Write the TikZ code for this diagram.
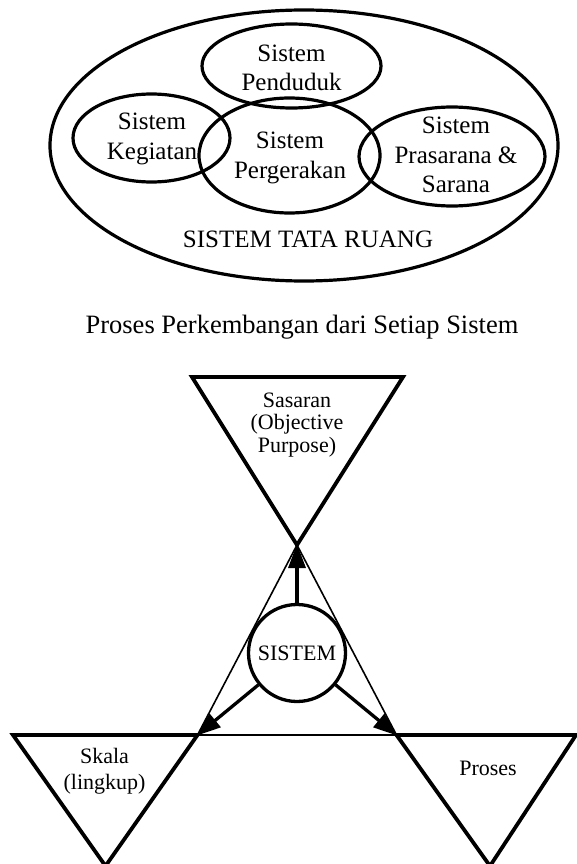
\documentclass[tikz,border=0pt]{standalone}
\usepackage{fontspec}
\setmainfont{Liberation Serif}
\usetikzlibrary{arrows.meta}
\tikzset{
  ell/.style={line width=3.2pt},
  bigtxt/.style={align=center, inner sep=0pt, font=\fontsize{25}{29.5}\selectfont},
  smalltxt/.style={align=center, inner sep=0pt, font=\fontsize{22}{22.5}\selectfont},
  tri/.style={line width=3.8pt, line join=miter},
  thinline/.style={line width=1.6pt},
  arr/.style={line width=3.3pt, -{Triangle[length=24pt,width=17pt]}, shorten >=-1pt},
}
\begin{document}
\begin{tikzpicture}[x=1pt,y=-1pt]
\useasboundingbox (0,0) rectangle (576,864);
% top diagram: ellipses
\draw[ell] (304,145.5) ellipse [x radius=254, y radius=135.5];
\draw[ell] (291.5,66) ellipse [x radius=89.5, y radius=42];
\draw[ell] (151.5,138) ellipse [x radius=78.5, y radius=44];
\draw[ell] (289.5,155.5) ellipse [x radius=90.5, y radius=57.5];
\draw[ell] (452,156.5) ellipse [x radius=93, y radius=49.5];
% texts
\node[bigtxt] (pend) at (291.5,68) {Sistem\\Penduduk};
\node[bigtxt] (keg) at (152,139) {Sistem\\Kegiatan};
\node[bigtxt] (perg) at (290,158) {Sistem\\Pergerakan};
\node[bigtxt] (pras) at (456,155) {Sistem\\Prasarana \&\\Sarana};
\node[bigtxt] (str) at (308,239) {SISTEM TATA RUANG};
\node[inner sep=0pt, anchor=base, font=\fontsize{26.5}{30}\selectfont] (title) at (302,333) {Proses Perkembangan dari Setiap Sistem};
% bottom diagram
\coordinate (T) at (297,545);
\coordinate (L) at (197.5,735);
\coordinate (R) at (396.5,735);
\draw[tri] (192,377) -- (403,377) -- (T) -- cycle;
\draw[tri] (13,735) -- (L) -- (105.5,866) -- cycle;
\draw[tri] (R) -- (576,735) -- (490,866) -- cycle;
\draw[thinline] (T) -- (L) -- (R) -- cycle;
\node[draw, circle, line width=3.3pt, minimum size=97pt, inner sep=0pt, fill=white,
      font=\fontsize{22}{24}\selectfont] (sys) at (297,653) {SISTEM};
\draw[arr] (sys) -- (T);
\draw[arr] (sys) -- (L);
\draw[arr] (sys) -- (R);
\node[smalltxt] (sas) at (297,425) {Sasaran\\(Objective\\Purpose)};
\node[smalltxt, font=\fontsize{22}{25.5}\selectfont] (skala) at (104.5,771) {Skala\\(lingkup)};
\node[smalltxt] (proses) at (488,768) {Proses};
\end{tikzpicture}
\end{document}
